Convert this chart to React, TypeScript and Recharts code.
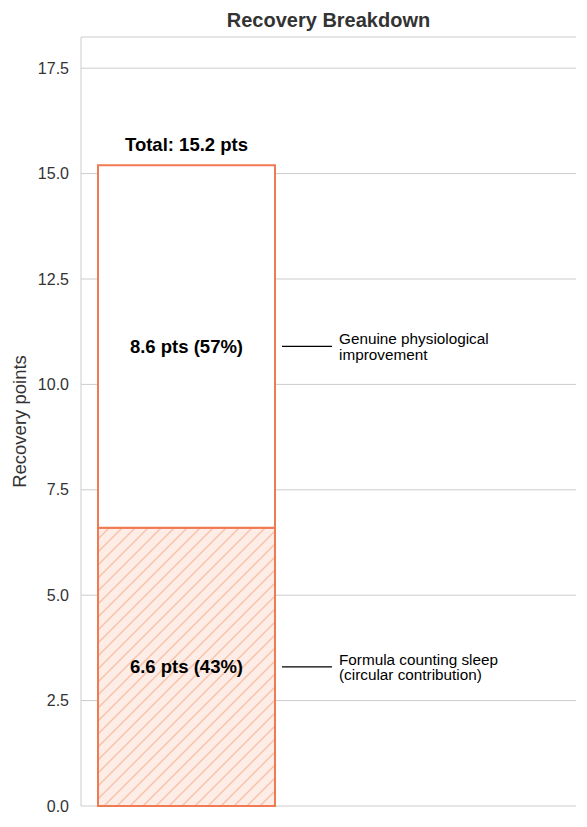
import React from "react";
import {
  BarChart,
  Bar,
  XAxis,
  YAxis,
  CartesianGrid,
  LabelList,
  Label,
} from "recharts";

// values
const categories = ["Recovery"];
const circularPts = [6.6];
const genuinePts = [8.6];
const yTicks = [0, 2.5, 5, 7.5, 10, 12.5, 15, 17.5];
const circularNote = ["Formula counting sleep", "(circular contribution)"];
const genuineNote = ["Genuine physiological", "improvement"];

const data = categories.map((name, i) => ({
  name,
  circular: circularPts[i],
  genuine: genuinePts[i],
  total: circularPts[i] + genuinePts[i],
}));

const ORANGE = "#f07a52";
const FONT = "'Liberation Sans', Arial, sans-serif";

function segmentLabel(note: string[], key: "circular" | "genuine") {
  return (props: any) => {
    const { x, y, width, height, index } = props;
    const row = data[index];
    const val = row[key];
    const pct = Math.round((val / row.total) * 100);
    const cx = x + width / 2;
    const cy = y + height / 2;
    const lx = x + width + 7;
    return (
      <g>
        <text
          x={cx}
          y={cy}
          textAnchor="middle"
          dominantBaseline="central"
          fontSize={18.5}
          fontWeight="bold"
          fill="#000"
          fontFamily={FONT}
        >
          {`${val.toFixed(1)} pts (${pct}%)`}
        </text>
        <line x1={lx} x2={lx + 50} y1={cy} y2={cy} stroke="#000" strokeWidth={1.3} />
        {note.map((t, k) => (
          <text
            key={k}
            x={lx + 57}
            y={cy + (k - (note.length - 1) / 2) * 15.5}
            dominantBaseline="central"
            fontSize={15.3}
            fill="#000"
            fontFamily={FONT}
          >
            {t}
          </text>
        ))}
      </g>
    );
  };
}

function totalLabel(props: any) {
  const { x, y, width, index } = props;
  return (
    <text
      x={x + width / 2}
      y={y - 21}
      textAnchor="middle"
      dominantBaseline="central"
      fontSize={18.5}
      fontWeight="bold"
      fill="#000"
      fontFamily={FONT}
    >
      {`Total: ${data[index].total.toFixed(1)} pts`}
    </text>
  );
}

export default function App() {
  return (
    <div
      style={{
        position: "absolute",
        left: 0,
        top: 0,
        width: 587,
        height: 827,
        background: "#fff",
        fontFamily: FONT,
      }}
    >
      <div
        style={{
          position: "absolute",
          left: 81,
          width: 495,
          top: 8,
          lineHeight: "24px",
          textAlign: "center",
          fontSize: 20,
          fontWeight: "bold",
          color: "#333",
        }}
      >
        Recovery Breakdown
      </div>
      <BarChart
        width={587}
        height={827}
        data={data}
        margin={{ top: 37, right: 11, left: 0, bottom: 21 }}
        style={{ position: "absolute", left: 0, top: 0 }}
      >
        <defs>
          <pattern
            id="hatch"
            patternUnits="userSpaceOnUse"
            width={13}
            height={13}
          >
            <rect width={13} height={13} fill="#fdede6" />
            <path
              d="M-1,1 l2,-2 M0,13 l13,-13 M12,14 l2,-2"
              stroke="#f8c3ab"
              strokeWidth={1.5}
            />
          </pattern>
        </defs>
        <CartesianGrid vertical={false} stroke="#cccccc" strokeWidth={1} />
        <XAxis
          dataKey="name"
          tick={false}
          tickLine={false}
          axisLine={{ stroke: "#cccccc" }}
          height={0}
          padding={{ left: 0, right: 284 }}
        />
        <YAxis
          type="number"
          domain={[0, 18.24]}
          ticks={yTicks}
          tickFormatter={(v: number) => v.toFixed(1)}
          tick={{ fill: "#333", fontSize: 16, fontFamily: FONT }}
          tickLine={false}
          tickMargin={6}
          axisLine={{ stroke: "#cccccc" }}
          width={81}
        >
          <Label
            content={(p: any) => {
              const vb = p.viewBox;
              const cy = vb.y + vb.height / 2;
              return (
                <text
                  x={19}
                  y={cy}
                  transform={`rotate(-90, 19, ${cy})`}
                  textAnchor="middle"
                  dominantBaseline="central"
                  fontSize={18.5}
                  fill="#333"
                  fontFamily={FONT}
                >
                  Recovery points
                </text>
              );
            }}
          />
        </YAxis>
        <Bar
          dataKey="circular"
          stackId="a"
          barSize={177}
          fill="url(#hatch)"
          stroke={ORANGE}
          strokeWidth={2}
          isAnimationActive={false}
        >
          <LabelList content={segmentLabel(circularNote, "circular")} />
        </Bar>
        <Bar
          dataKey="genuine"
          stackId="a"
          barSize={177}
          fill="#ffffff"
          stroke={ORANGE}
          strokeWidth={2}
          isAnimationActive={false}
        >
          <LabelList content={segmentLabel(genuineNote, "genuine")} />
          <LabelList content={totalLabel} />
        </Bar>
      </BarChart>
    </div>
  );
}
